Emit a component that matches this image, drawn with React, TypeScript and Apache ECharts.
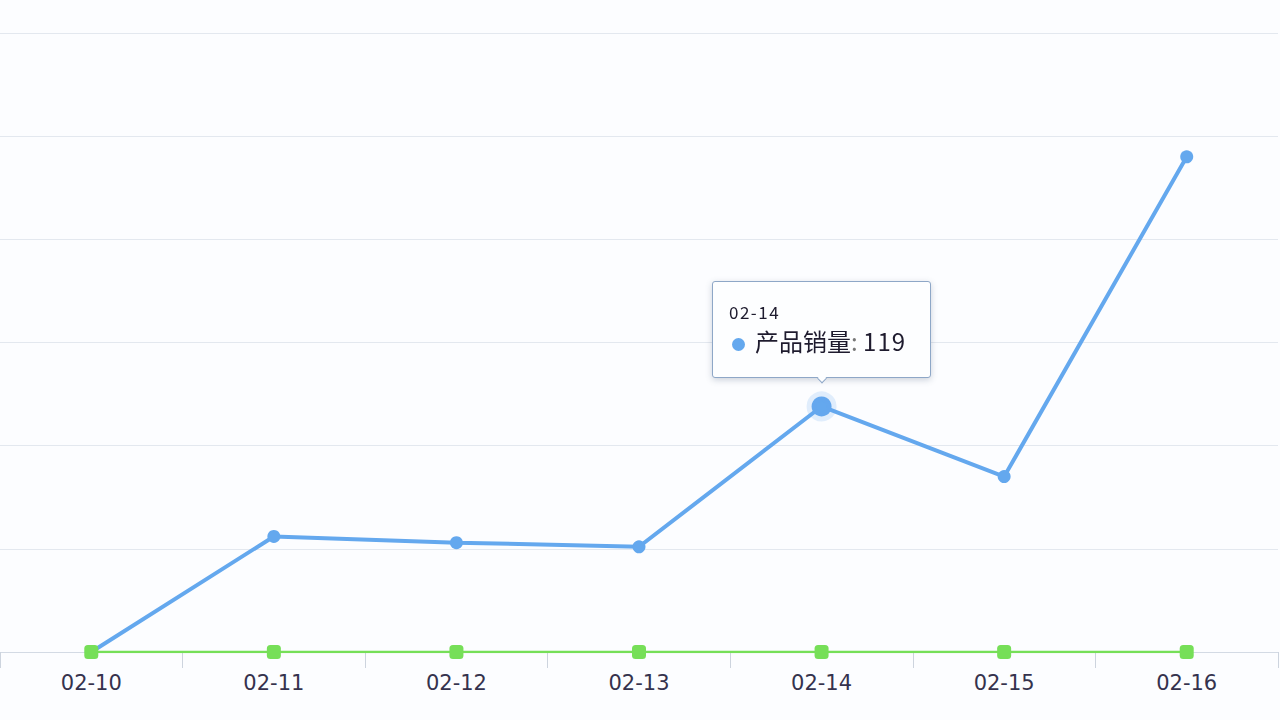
import {useEffect, useRef} from 'react';
import * as echarts from 'echarts';

const days = ['02-10', '02-11', '02-12', '02-13', '02-14', '02-15', '02-16'];
const salesName = '产品销量';
const sales = [0, 56, 53, 51, 119, 85, 240];
const otherName = '其他';
const other = [0, 0, 0, 0, 0, 0, 0];
const focusIndex = 4;

const BLUE = '#64a8ee';
const GREEN = '#76df58';

const App = () => {
    const chartRef = useRef<HTMLDivElement>(null);

    useEffect(() => {
        const myChart = echarts.init(chartRef.current!, undefined, {renderer: 'svg'});

        myChart.setOption({
            animation: false,
            backgroundColor: '#fcfdff',
            textStyle: {fontFamily: '"Noto Sans CJK SC", "Noto Sans", sans-serif'},
            grid: {left: 0, right: 2, top: 33, bottom: 68, containLabel: false},
            tooltip: {
                trigger: 'item',
                position: 'top',
                alwaysShowContent: true,
                backgroundColor: '#fdfeff',
                borderColor: '#8ea7c7',
                borderWidth: 1,
                padding: [18, 24, 20, 16],
                extraCssText:
                    'box-shadow: 0 2px 6px rgba(60,80,110,0.25); border-radius: 3px; margin-top: -3px;',
                formatter: (p: any) =>
                    `<div style="font-family:'Noto Sans CJK SC',sans-serif;color:#1e1b2e;line-height:1.4">` +
                    `<div style="font-size:17px;letter-spacing:1.5px">${p.name}</div>` +
                    `<div style="font-size:24px;margin-top:0px">` +
                    `<span style="display:inline-block;width:13px;height:13px;border-radius:7px;background:${BLUE};margin:0 10px 0 3px;vertical-align:middle"></span>` +
                    `${p.seriesName}<span style="color:#777">:</span> <span style="letter-spacing:1px">${p.value}</span></div></div>`,
            },
            xAxis: {
                type: 'category',
                data: days,
                boundaryGap: true,
                axisLine: {lineStyle: {color: '#d3dae4', width: 1}},
                axisTick: {show: true, length: 16, lineStyle: {color: '#cdd4de'}},
                axisLabel: {
                    color: '#35324d',
                    fontSize: 21,
                    margin: 20,
                    fontFamily: '"DejaVu Sans", sans-serif',
                },
            },
            yAxis: {
                type: 'value',
                min: 0,
                max: 300,
                interval: 50,
                axisLabel: {show: false},
                axisLine: {show: false},
                axisTick: {show: false},
                splitLine: {lineStyle: {color: '#e3e8ef', width: 1}},
            },
            series: [
                {
                    name: salesName,
                    type: 'line',
                    data: sales.map((v, i) =>
                        i === focusIndex
                            ? {
                                  value: v,
                                  symbolSize: 20,
                                  itemStyle: {borderColor: 'rgba(100,168,238,0.18)', borderWidth: 10},
                              }
                            : v,
                    ),
                    symbol: 'circle',
                    symbolSize: 13,
                    showAllSymbol: true,
                    lineStyle: {color: BLUE, width: 4},
                    itemStyle: {color: BLUE, borderWidth: 0},
                    emphasis: {disabled: true},
                },
                {
                    name: otherName,
                    type: 'line',
                    data: other,
                    symbol: 'roundRect',
                    symbolSize: 14,
                    showAllSymbol: true,
                    lineStyle: {color: GREEN, width: 2.5},
                    itemStyle: {color: GREEN},
                    emphasis: {disabled: true},
                    tooltip: {show: false},
                },
            ],
        });

        myChart.dispatchAction({type: 'showTip', seriesIndex: 0, dataIndex: focusIndex});

        return () => {
            myChart.dispose();
        };
    }, []);

    return (
        <div style={{position: 'fixed', left: 0, top: 0, width: '1280px', height: '720px'}}>
            <div ref={chartRef} style={{width: '1280px', height: '720px'}} />
        </div>
    );
};

export default App;
